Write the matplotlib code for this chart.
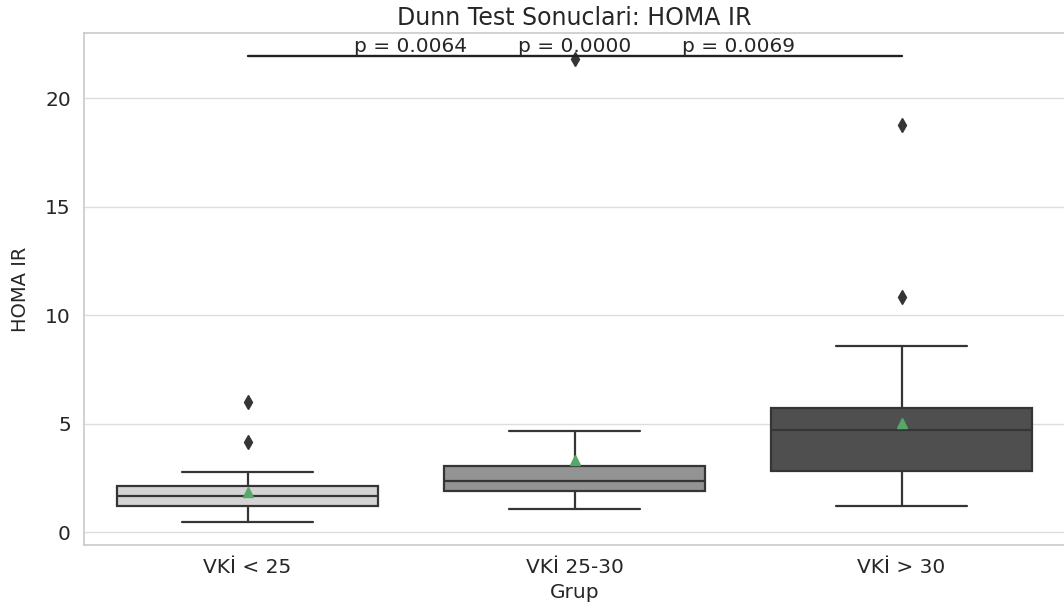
import matplotlib.pyplot as plt
import seaborn as sns

groups = ["VKİ < 25", "VKİ 25-30", "VKİ > 30"]
q1 = [1.20, 1.93, 2.82]
medians = [1.67, 2.39, 4.74]
q3 = [2.13, 3.05, 5.75]
whis_low = [0.49, 1.06, 1.23]
whis_high = [2.80, 4.66, 8.57]
means = [1.84, 3.34, 5.03]
outliers = [[4.18, 6.01], [21.79], [10.86, 18.76]]
p_values = [0.0064, 0.0000, 0.0069]
box_colors = ["#d4d4d4", "#939393", "#4f4f4f"]

sns.set_theme(style="whitegrid", rc={"grid.color": "#dddddd"})
plt.rcParams["font.family"] = ["DejaVu Sans"]

line_col = "#353535"
fig = plt.figure(figsize=(10.64, 6.09), dpi=100)
ax = fig.add_axes([0.079, 0.105, 0.922, 0.841])

stats = []
for i, g in enumerate(groups):
    stats.append(dict(label=g, q1=q1[i], med=medians[i], q3=q3[i],
                      whislo=whis_low[i], whishi=whis_high[i],
                      mean=means[i], fliers=outliers[i]))

bp = ax.bxp(stats, positions=range(len(groups)), widths=0.8,
            patch_artist=True, showmeans=True,
            boxprops=dict(edgecolor=line_col, linewidth=1.6),
            medianprops=dict(color=line_col, linewidth=1.6),
            whiskerprops=dict(color=line_col, linewidth=1.6),
            capprops=dict(color=line_col, linewidth=1.6),
            capwidths=0.4,
            flierprops=dict(marker="d", markerfacecolor=line_col,
                            markeredgecolor=line_col, markersize=7.5),
            meanprops=dict(marker="^", markerfacecolor="#55a868",
                           markeredgecolor="#55a868", markersize=7))
for patch, c in zip(bp["boxes"], box_colors):
    patch.set_facecolor(c)

# significance bar above the highest point
top = max(max(o) for o in outliers) + 0.15
ax.plot([0, 2], [top, top], color="#222222", linewidth=1.7)
for x, p in zip([0.5, 1.0, 1.5], p_values):
    ax.text(x, top, f"p = {p:.4f}", ha="center", va="bottom",
            fontsize=14.5, color="#262626")

ax.set_xlim(-0.5, 2.5)
ax.xaxis.grid(False)
ax.set_yticks([0, 5, 10, 15, 20])
ax.tick_params(labelsize=14.5)
ax.set_xlabel("Grup", fontsize=14.5)
ax.set_ylabel("HOMA IR", fontsize=14, labelpad=11)
ax.set_title("Dunn Test Sonuclari: HOMA IR", fontsize=17, pad=6)

fig.savefig("out.png", dpi=100)
